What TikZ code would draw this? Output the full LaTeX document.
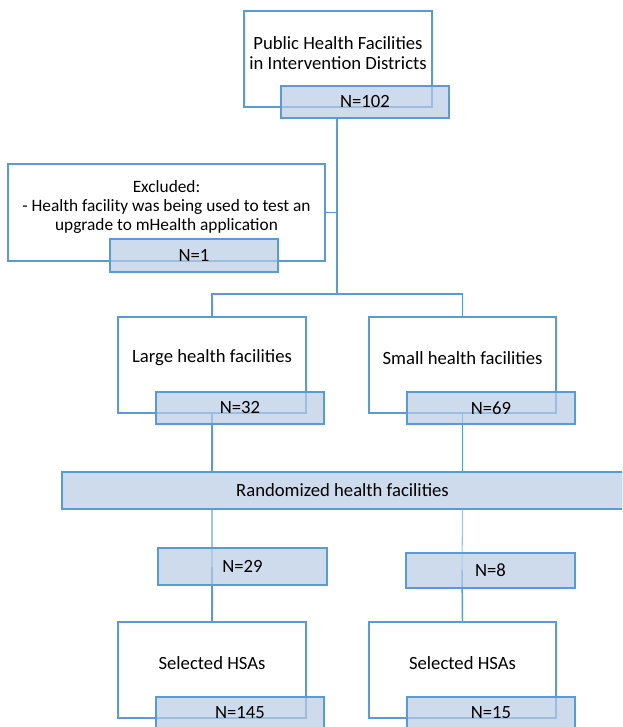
\documentclass[tikz,border=0pt]{standalone}
\usepackage{fontspec}
\setmainfont{Carlito}
\usetikzlibrary{positioning}

\definecolor{boxline}{RGB}{91,155,213}
\definecolor{thinline}{RGB}{160,196,230}
\definecolor{nfill}{RGB}{184,204,228}

\tikzset{
  stagebox/.style={draw=boxline, line width=1.1pt, fill=white, inner sep=0pt,
    minimum width=141pt, minimum height=72pt},
  countbox/.style={draw=boxline, line width=1.1pt, fill=nfill, fill opacity=0.7,
    text opacity=1, inner sep=0pt, minimum width=126pt, minimum height=24pt,
    font=\fontsize{14}{16}\selectfont},
  boxtext/.style={align=center, font=\fontsize{14}{14.8}\selectfont, inner sep=0pt},
  flow/.style={draw=boxline, line width=1.1pt}
}

\begin{document}
\begin{tikzpicture}[x=0.75pt,y=-0.75pt]
  \useasboundingbox (0,0) rectangle (622,727);
  \clip (0,0) rectangle (622,727);

  % stage boxes
  \node[stagebox] (source) at (338,59) {};
  \node[boxtext] (sourcetext) at (338,53) {Public Health Facilities\\in Intervention Districts};
  \node[stagebox, minimum width=237.75pt, minimum height=72.75pt] (excl) at (166.5,212.5) {};
  \node[boxtext, font=\fontsize{13}{14.6}\selectfont] (excltext) at (166.5,207) {Excluded:\\- Health facility was being used to test an\\upgrade to mHealth application};
  \node[stagebox] (large) at (212,365) {};
  \node[boxtext] (largetext) at (212,358) {Large health facilities};
  \node[stagebox, minimum width=140.25pt] (small) at (462.5,365) {};
  \node[boxtext] (smalltext) at (462.5,358) {Small health facilities};
  \node[stagebox] (hsalarge) at (212,670) {};
  \node[boxtext] (hsalargetext) at (212,663) {Selected HSAs};
  \node[stagebox, minimum width=140.25pt] (hsasmall) at (462.5,670) {};
  \node[boxtext] (hsasmalltext) at (462.5,663) {Selected HSAs};
  \node[countbox, minimum width=420.75pt, minimum height=27.75pt] (rand) at (342.5,490.5) {Randomized health facilities};

  % connectors
  \coordinate (split) at (337,294);
  \coordinate (top) at (337,118);
  \draw[flow] (top) -- (split);
  \draw[flow] (excl.east) -- (excl.east -| split);
  \draw[flow] (split) -| (large.north);
  \draw[flow] (split) -| (small.north);
  \draw[flow] (large.south) -- (large.south |- rand.north);
  \draw[flow] (small.south) -- (small.south |- rand.north);
  \coordinate (leftmid) at (212,567);
  \coordinate (rightmid) at (462,570);
  \draw[draw=thinline, line width=0.8pt] (rand.south -| large.south) -- (leftmid);
  \draw[draw=thinline, line width=0.8pt] (rand.south -| small.south) -- (rightmid);
  \draw[flow] (leftmid) -- (hsalarge.north);
  \draw[flow] (rightmid) -- (hsasmall.north);

  % counts
  \node[countbox] (n102) at (365,102) {N=102};
  \node[countbox, minimum height=24.75pt] (n1) at (194,255.5) {N=1};
  \node[countbox] (n32) at (240,408) {N=32};
  \node[countbox] (n69) at (491,408) {N=69};
  \node[countbox, minimum width=126.75pt, minimum height=27.75pt] (n29) at (242.5,566.5) {N=29};
  \node[countbox, minimum width=126.75pt, minimum height=26.25pt] (n8) at (490.5,570.5) {N=8};
  \node[countbox] (n145) at (240,713) {N=145};
  \node[countbox] (n15) at (491,713) {N=15};
\end{tikzpicture}
\end{document}
